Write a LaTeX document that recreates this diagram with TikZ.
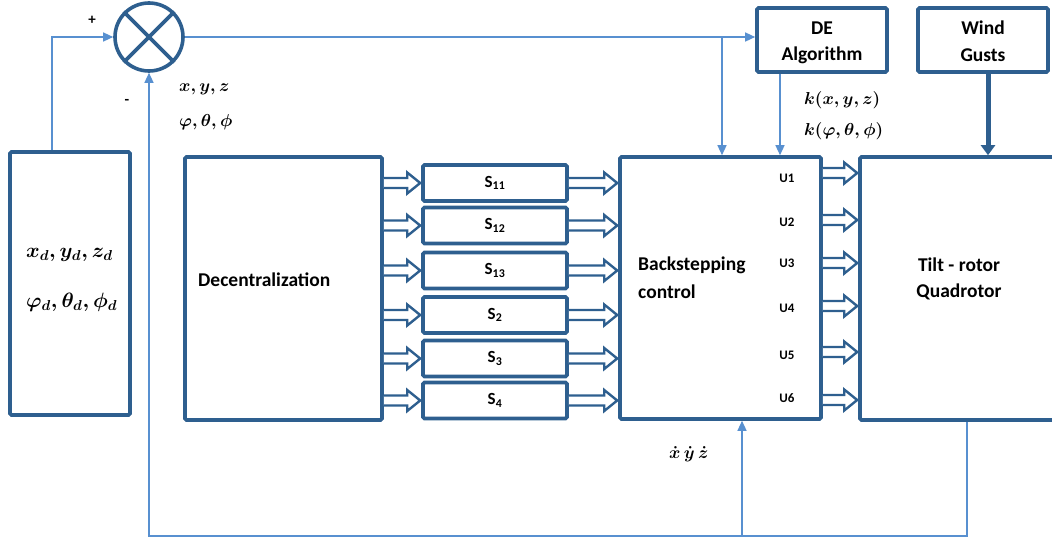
\documentclass[tikz,border=0pt]{standalone}
\usepackage{fontspec}
\setmainfont{Carlito}
\usepackage{amsmath}
\usetikzlibrary{arrows.meta}
\definecolor{boxblue}{RGB}{46,95,143}
\definecolor{lineblue}{RGB}{88,144,208}
\tikzset{
  blk/.style={draw=boxblue, line width=3.6pt, fill=white, inner sep=0pt, rounded corners=1.5pt},
  sbox/.style={blk, minimum width=144pt, minimum height=36pt, font=\fontsize{17}{20}\selectfont\bfseries},
  thinarr/.style={draw=lineblue, line width=1.3pt, -{Triangle[length=10pt,width=9pt]}},
  thickarr/.style={draw=boxblue, line width=5pt, -{Triangle[length=10pt,width=14pt]}},
  blockarr/.style={draw=boxblue, fill=white, line width=2.4pt, line join=miter},
  txt/.style={font=\fontsize{19.5}{23}\selectfont\bfseries, inner sep=0pt},
  ulab/.style={font=\fontsize{13}{15}\selectfont\bfseries, inner sep=0pt},
  mlab/.style={font=\fontsize{16}{18}\selectfont\boldmath, inner sep=0pt, anchor=west},
  biglab/.style={font=\fontsize{21}{24}\selectfont\boldmath, inner sep=0pt, anchor=west},
}
\newcommand\myblockarrow[2]{%
  \draw[blockarr] ([yshift=5pt]#1) -- ([shift={(-14pt,5pt)}]#2) -- ([shift={(-14pt,10.5pt)}]#2)
    -- ([xshift=-1pt]#2) -- ([shift={(-14pt,-10.5pt)}]#2) -- ([shift={(-14pt,-5pt)}]#2)
    -- ([yshift=-5pt]#1);}
\begin{document}
\begin{tikzpicture}[x=1pt,y=-1pt]
\useasboundingbox (0,0) rectangle (1052,541);
\clip (0,0) rectangle (1052,541);
% blocks
\node[blk, minimum width=120pt, minimum height=263pt] (ref) at (70,283.5) {};
\node[blk, minimum width=197pt, minimum height=263pt] (dec) at (283.5,288.5) {};
\node[sbox] (s11) at (495,183) {S\textsubscript{11}};
\node[sbox] (s12) at (495,225.5) {S\textsubscript{12}};
\node[sbox] (s13) at (495,270.5) {S\textsubscript{13}};
\node[sbox] (s2) at (495,315) {S\textsubscript{2}};
\node[sbox] (s3) at (495,358.5) {S\textsubscript{3}};
\node[sbox] (s4) at (495,400.5) {S\textsubscript{4}};
\node[blk, minimum width=201pt, minimum height=262pt] (back) at (720.5,288) {};
\node[blk, minimum width=210pt, minimum height=263pt] (tilt) at (965,288.5) {};
\node[blk, minimum width=130pt, minimum height=64pt] (de) at (822,40) {};
\node[blk, minimum width=130pt, minimum height=64pt] (wind) at (983,40) {};
\node[circle, draw=boxblue, line width=3.6pt, fill=white, minimum size=68pt, inner sep=0pt] (sum) at (149,37) {};
\draw[boxblue, line width=3.6pt] (sum.north west) -- (sum.south east) (sum.north east) -- (sum.south west);
% texts
\node[txt] (t1) at (822,28) {DE};
\node[txt] (t2) at (822,55) {Algorithm};
\node[txt] (t3) at (983,28) {Wind};
\node[txt] (t4) at (983,55) {Gusts};
\node[txt, anchor=west] (t5) at (198,280) {Decentralization};
\node[txt, anchor=west] (t6) at (638,265) {Backstepping};
\node[txt, anchor=west] (t7) at (638,292) {control};
\node[txt] (t8) at (959,265) {Tilt - rotor};
\node[txt] (t9) at (959,292) {Quadrotor};
\node[biglab] (t10) at (26,255) {$x_d,y_d,z_d$};
\node[biglab] (t11) at (26,302) {$\varphi_d,\theta_d,\phi_d$};
\node[mlab] (t12) at (179,89) {$x,y,z$};
\node[mlab] (t13) at (179,122) {$\varphi,\theta,\phi$};
\node[mlab] (t14) at (804,100) {$k(x,y,z)$};
\node[mlab] (t15) at (804,131) {$k(\varphi,\theta,\phi)$};
\node[mlab, font=\fontsize{19}{21}\selectfont\boldmath] (t16) at (669,454) {$\dot{x}\,\dot{y}\,\dot{z}$};
\node[font=\fontsize{15}{18}\selectfont\bfseries, inner sep=0pt] (plus) at (92,20) {+};
\node[font=\fontsize{15}{18}\selectfont\bfseries, inner sep=0pt] (minus) at (127,102) {-};
\foreach \i/\y in {1/178,2/222,3/263,4/308,5/355,6/398}{
  \node[ulab] (u\i) at (787,\y) {U\i};
}
% block arrows
\foreach \s in {s11,s12,s13,s2,s3,s4}{
  \coordinate (pa) at (dec.east |- \s);
  \coordinate (pb) at (\s.west);
  \myblockarrow{pa}{pb}
  \coordinate (qa) at (\s.east);
  \coordinate (qb) at (\s -| back.west);
  \myblockarrow{qa}{qb}
}
\foreach \y in {173,220,263,306,352,400}{
  \coordinate (ra) at (back.east |- 0,\y);
  \coordinate (rb) at (tilt.west |- 0,\y);
  \myblockarrow{ra}{rb}
}
% thin connectors
\draw[thinarr] ([xshift=-18pt]ref.north) |- (sum.west);
\draw[thinarr] (sum.east) -- (sum -| de.west);
\coordinate (br) at (722,37);
\draw[thinarr] (br) -- (br |- back.north);
\draw[thinarr] ([xshift=-42pt]de.south) -- ([xshift=-42pt]de.south |- back.north);
\draw[thickarr] ([xshift=5pt]wind.south) -- ([xshift=5pt]wind.south |- tilt.north);
\coordinate (fb) at (967,536);
\coordinate (fb2) at (742,536);
\draw[thinarr] (tilt.south -| fb) -- (fb) -| (sum.south);
\draw[thinarr] (fb2) -- (fb2 |- back.south);
\end{tikzpicture}
\end{document}
